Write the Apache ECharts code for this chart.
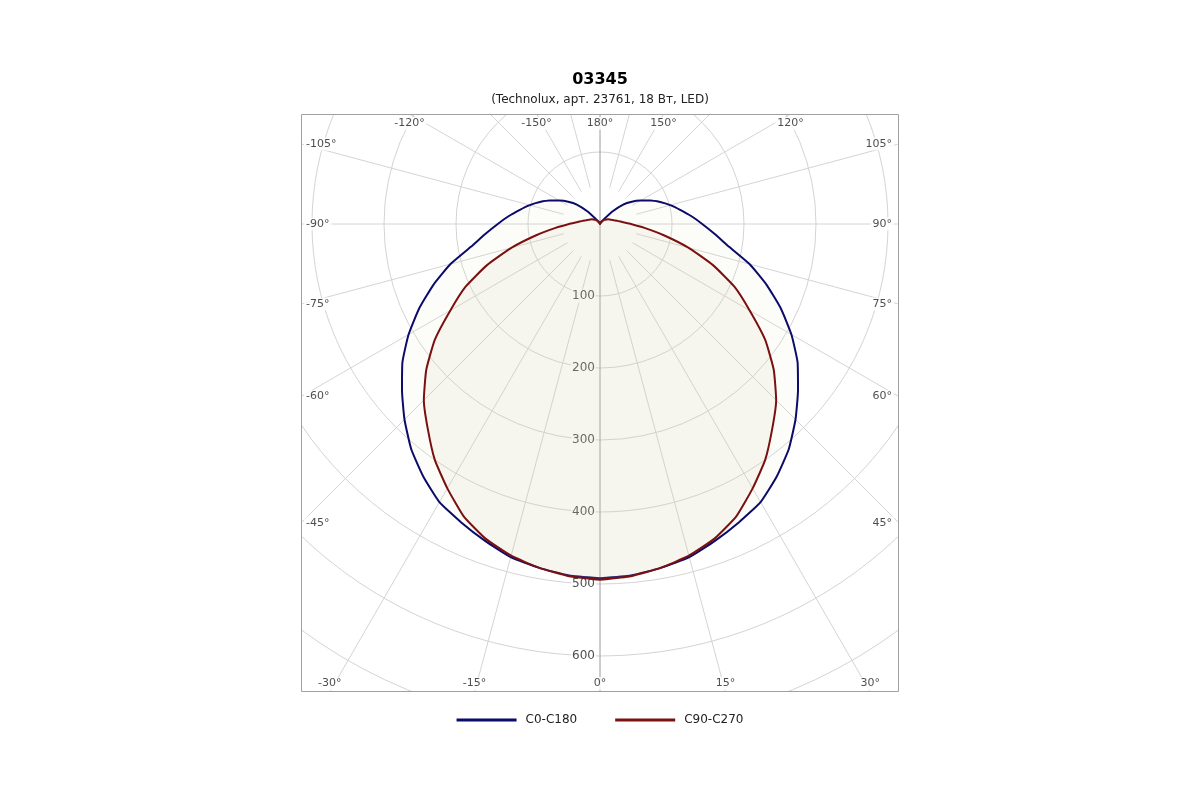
<!DOCTYPE html>
<html>
<head>
<meta charset="utf-8">
<script src="https://cdn.jsdelivr.net/npm/echarts@6/dist/echarts.min.js"></script>
<style>html,body{margin:0;padding:0;background:#fff}#c{width:1200px;height:800px}</style>
</head>
<body>
<div id="c"></div>
<script>
// ---- data (angles measured from nadir, 0..180, symmetric curves) ----
const angles = [0,5,10,15,20,25,30,35,40,45,50,55,60,65,70,75,80,85,90,95,100,105,110,115,120,125,130,135,140,145,150,155,160,165,170,175,180];
const c0c180 = [492,490,485,479,468,457,446,428,408,384,359,335,307,277,246,215,182,160,142,127,113,101,89,77,65,54,42,25,9,3,1,0,0,0,0,0,0];
const c90c270 = [494,491,485,477,465,448,424,400,372,346,315,280,240,206,167,127,90,62,43,31,25,20,17,15,13,11,9,8,6,5,4,3,2,1,1,0,0];
const angleLabels = [-150,-120,-105,-90,-75,-60,-45,-30,-15,0,15,30,45,60,75,90,105,120,150,180];
const radiusLabels = [100,200,300,400,500,600];
const seriesNames = ['C0-C180','C90-C270'];
const titleText = '03345';
const subText = '(Technolux, арт. 23761, 18 Вт, LED)';

// ---- layout ----
const CX = 600, CY = 224, RMAX = 800, RPX = 576;
const BOX = {l:301, r:899, t:114, b:692};
const scale = RPX / RMAX;
const FONT = 'DejaVu Sans';

function mirror(vals){
  const d = [];
  for (let i=0;i<angles.length;i++) d.push([vals[i], angles[i]]);
  for (let i=angles.length-2;i>=0;i--) d.push([vals[i], 360 - angles[i]]);
  return d;
}

// radial grid lines (start a little away from the centre)
const radial = [];
for (let a=15;a<360;a+=15){ if (a===180) continue; radial.push([52,a],[RMAX,a],['-',a]); }

// angle labels at the box edge
const angleLabelData = angleLabels.map(t => {
  const rad = t*Math.PI/180, dx = Math.sin(rad), dy = Math.cos(rad);
  let best = Infinity, side = '';
  if (dx > 1e-9){ const v=(BOX.r-CX)/dx; if(v<best){best=v;side='right';} }
  if (dx < -1e-9){ const v=(BOX.l-CX)/dx; if(v<best){best=v;side='left';} }
  if (dy > 1e-9){ const v=(BOX.b-CY)/dy; if(v<best){best=v;side='bottom';} }
  if (dy < -1e-9){ const v=(BOX.t-CY)/dy; if(v<best){best=v;side='top';} }
  const lab = {right:{align:'right',verticalAlign:'middle',offset:[-5,0]},
               left:{align:'left',verticalAlign:'middle',offset:[3,0]},
               top:{align:'center',verticalAlign:'top',offset:[0,3]},
               bottom:{align:'center',verticalAlign:'bottom',offset:[0,-2]}}[side];
  return {value:[best/scale, t<0?t+360:t], name:t+'°', label:lab};
});

const chart = echarts.init(document.getElementById('c'));
chart.setOption({
  backgroundColor:'#fff',
  animation:false,
  title:{text:titleText, subtext:subText, left:'center', top:67, itemGap:6, z:200,
    textStyle:{fontFamily:FONT, fontSize:16, fontWeight:'bold', color:'#000'},
    subtextStyle:{fontFamily:FONT, fontSize:12, color:'#222'}},
  legend:{top:709, left:'center', itemWidth:60, itemHeight:3, itemGap:38, z:200,
    data:[{name:seriesNames[0], icon:'rect'},{name:seriesNames[1], icon:'rect'}],
    textStyle:{fontFamily:FONT, fontSize:12, color:'#222', padding:[0,0,0,4]}},
  polar:{center:[CX,CY], radius:RPX},
  angleAxis:{type:'value', min:0, max:360, startAngle:-90, clockwise:false, z:0,
    axisLine:{show:false}, axisTick:{show:false}, axisLabel:{show:false}, splitLine:{show:false}},
  radiusAxis:{type:'value', min:0, max:RMAX, interval:100, z:0,
    axisLine:{show:false}, axisTick:{show:false}, axisLabel:{show:false},
    splitLine:{show:true, lineStyle:{color:'#d4d4d4', width:1}}},
  graphic:{elements:[
    {type:'rect', z:100, silent:true, shape:{x:0,y:0,width:1200,height:BOX.t}, style:{fill:'#fff'}},
    {type:'rect', z:100, silent:true, shape:{x:0,y:BOX.b,width:1200,height:800-BOX.b}, style:{fill:'#fff'}},
    {type:'rect', z:100, silent:true, shape:{x:0,y:BOX.t,width:BOX.l,height:BOX.b-BOX.t}, style:{fill:'#fff'}},
    {type:'rect', z:100, silent:true, shape:{x:BOX.r,y:BOX.t,width:1200-BOX.r,height:BOX.b-BOX.t}, style:{fill:'#fff'}},
    {type:'rect', z:101, silent:true, shape:{x:BOX.l+0.5,y:BOX.t+0.5,width:BOX.r-BOX.l-1,height:BOX.b-BOX.t-1}, style:{fill:null, stroke:'#a0a0a0', lineWidth:1}}
  ]},
  series:[
    {type:'line', coordinateSystem:'polar', name:'_radial', z:1, symbol:'none', silent:true, connectNulls:false,
      lineStyle:{color:'#d4d4d4', width:1}, data:radial},
    {type:'line', coordinateSystem:'polar', name:'_axis', z:1, symbol:'none', silent:true,
      lineStyle:{color:'#9a9a9a', width:1}, data:[[RMAX,180],[0,0],[RMAX,0]]},
    {type:'scatter', coordinateSystem:'polar', name:'_rlab', z:1, symbolSize:1, silent:true,
      itemStyle:{color:'rgba(0,0,0,0)'},
      label:{show:true, position:'inside', align:'right', verticalAlign:'middle', offset:[-4,0],
        formatter:p=>String(p.value[0]), fontFamily:FONT, fontSize:12, color:'#222',
        backgroundColor:'#fff', padding:[1,1]},
      data:radiusLabels.map(v=>[v,0])},
    {type:'scatter', coordinateSystem:'polar', name:'_alab', z:1, symbolSize:1, silent:true,
      itemStyle:{color:'rgba(0,0,0,0)'},
      label:{show:true, position:'inside', formatter:p=>p.name, fontFamily:FONT, fontSize:11, color:'#222',
        backgroundColor:'#fff', padding:[1,2]},
      data:angleLabelData},
    {type:'line', coordinateSystem:'polar', name:seriesNames[0], z:3, symbol:'none', smooth:0.15,
      lineStyle:{color:'#0b0b6b', width:2}, itemStyle:{color:'#0b0b6b'},
      areaStyle:{color:'rgba(225,215,175,0.12)'}, data:mirror(c0c180)},
    {type:'line', coordinateSystem:'polar', name:seriesNames[1], z:4, symbol:'none', smooth:0.15,
      lineStyle:{color:'#7a1010', width:2}, itemStyle:{color:'#7a1010'},
      areaStyle:{color:'rgba(215,205,180,0.2)'}, data:mirror(c90c270)}
  ]
});
</script>
</body>
</html>
